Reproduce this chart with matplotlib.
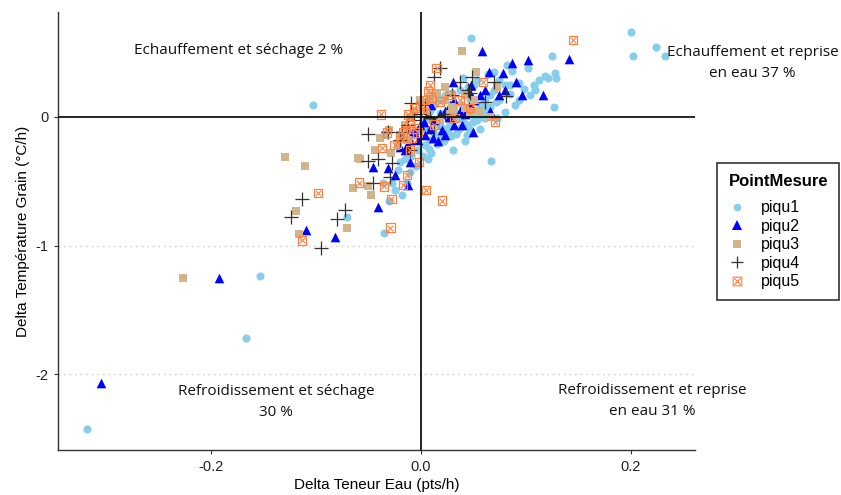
import matplotlib.pyplot as plt
from matplotlib.lines import Line2D

# piqu1 (light blue circles)
p1_x = [-0.318, -0.167, -0.153, -0.103, -0.070, -0.035, 0.200, 0.224, 0.202, 0.233,
        0.125, 0.128, 0.121, 0.129, 0.127, 0.048, 0.082, 0.087, 0.102, 0.075,
        0.080, 0.085, 0.094, 0.075, 0.066, 0.059, 0.040, 0.054, 0.042, 0.031,
        0.067, 0.007, 0.010, -0.027, -0.013, -0.036, -0.010, -0.020,
        0.018, 0.023, 0.028, 0.032, 0.037, 0.047, 0.051, 0.056, 0.061, 0.066,
        0.070, 0.061, 0.054, 0.045, 0.035, 0.026, 0.016, 0.009, 0.004, -0.003,
        -0.009, -0.015, -0.022, -0.025, -0.018, -0.030, -0.006, -0.001, 0.004, 0.009,
        0.013, 0.018, 0.023, 0.030, 0.037, 0.045, 0.051, 0.064, 0.070, 0.113,
        0.109, 0.104, 0.094, 0.090, 0.080, 0.073, 0.028, 0.032, 0.039, 0.047,
        0.018, 0.010, 0.004, 0.047, 0.056,
        0.012, 0.020, 0.027, 0.034, 0.041, 0.050, 0.058, 0.063, 0.008, 0.015,
        0.022, 0.029, 0.038, 0.044, 0.002, -0.005, -0.012, 0.052, 0.060, 0.072,
        0.085, 0.098, 0.108, 0.118]
p1_y = [-2.43, -1.72, -1.24, 0.09, -0.78, -0.90, 0.66, 0.54, 0.47, 0.47,
        0.47, 0.34, 0.30, 0.30, 0.08, 0.61, 0.40, 0.36, 0.38, 0.29,
        0.25, 0.25, 0.26, 0.13, 0.08, 0.04, 0.30, 0.29, -0.19, -0.26,
        -0.34, -0.33, -0.28, -0.51, -0.51, -0.51, -0.43, -0.35,
        -0.06, -0.09, -0.04, -0.02, -0.01, 0.02, 0.05, 0.09, 0.13, 0.17,
        0.21, -0.01, -0.02, -0.06, -0.10, -0.12, -0.14, -0.18, -0.22, -0.26,
        -0.30, -0.33, -0.41, -0.57, -0.61, -0.65, -0.14, -0.10, -0.02, 0.05,
        0.09, 0.13, 0.17, 0.19, 0.21, 0.23, 0.25, 0.33, 0.35, 0.29,
        0.21, 0.17, 0.13, 0.09, 0.04, -0.01, 0.07, 0.04, 0.09, 0.13,
        0.03, -0.02, -0.09, -0.10, -0.09,
        -0.12, -0.16, -0.08, -0.13, -0.05, -0.04, 0.00, 0.06, -0.25, -0.21,
        -0.19, -0.15, -0.08, -0.14, -0.30, -0.38, -0.27, 0.00, 0.10, 0.12,
        0.18, 0.22, 0.25, 0.32]

# piqu2 (blue triangles)
p2_x = [-0.305, -0.192, -0.109, -0.082, -0.041, -0.031, -0.046, -0.012, -0.020, -0.013,
        -0.010, 0.058, 0.065, 0.078, 0.087, 0.102, 0.096, 0.116, 0.091, 0.031,
        0.048, 0.047, 0.141, 0.050, -0.015, -0.010, -0.006, -0.001, 0.004, 0.009,
        0.013, 0.018, 0.023, 0.028, 0.032, 0.037, 0.042, 0.047, 0.051, 0.056,
        0.061, 0.023, 0.016, -0.025, 0.007, 0.010, -0.003, 0.032, 0.039, 0.066,
        0.075, 0.080, 0.003, -0.007, 0.012, 0.020, 0.027]
p2_y = [-2.07, -1.25, -0.88, -0.93, -0.70, -0.40, -0.39, -0.53, -0.23, -0.22,
        -0.35, 0.51, 0.35, 0.34, 0.42, 0.44, 0.17, 0.17, 0.27, 0.27,
        0.25, 0.19, 0.45, -0.12, -0.26, -0.18, -0.10, -0.06, -0.14, -0.09,
        -0.02, 0.02, 0.05, 0.09, 0.13, 0.05, 0.02, 0.09, 0.13, 0.17,
        0.21, -0.14, -0.19, -0.45, 0.02, 0.09, -0.18, -0.06, -0.06, 0.05,
        0.17, 0.21, -0.04, -0.12, -0.16, -0.10, 0.00]

# piqu3 (tan squares)
p3_x = [-0.227, -0.129, -0.110, -0.119, -0.116, -0.070, -0.065, -0.058, -0.050, -0.047,
        -0.028, -0.039, 0.039, 0.053, 0.073, 0.066, 0.042, 0.030, 0.015, -0.001,
        -0.030, -0.060, -0.015, -0.010, -0.006, 0.004, 0.009, 0.013, 0.023, 0.028,
        0.018, -0.020, -0.034, -0.012, 0.032, 0.047, 0.056, 0.042, 0.023, 0.051,
        -0.022, -0.044]
p3_y = [-1.25, -0.31, -0.38, -0.73, -0.91, -0.86, -0.55, -0.33, -0.54, -0.61,
        -0.28, -0.16, 0.51, 0.35, 0.23, 0.00, 0.07, 0.08, 0.19, 0.13,
        -0.10, -0.32, -0.06, -0.01, 0.04, 0.05, 0.13, 0.17, 0.13, 0.02,
        -0.02, -0.14, -0.14, -0.18, 0.07, 0.04, 0.05, 0.17, 0.23, 0.13,
        -0.22, -0.26]

# piqu4 (plus)
p4_x = [-0.113, -0.124, -0.095, -0.080, -0.072, -0.050, -0.046, -0.050, -0.041, -0.029,
        -0.027, -0.031, -0.018, -0.012, 0.018, 0.013, 0.081, 0.061, 0.047, 0.070,
        -0.009, 0.030, 0.037, 0.049, 0.045, 0.013, -0.001, 0.004, -0.006, 0.009,
        0.023, -0.020, -0.010]
p4_y = [-0.64, -0.78, -1.02, -0.79, -0.72, -0.13, -0.51, -0.34, -0.33, -0.47,
        -0.36, -0.12, -0.12, -0.06, 0.38, 0.31, 0.16, 0.12, 0.19, 0.27,
        0.11, 0.17, 0.27, 0.31, 0.21, -0.09, 0.02, 0.09, -0.02, -0.01,
        0.02, -0.18, -0.26]

# piqu5 (orange boxed cross)
p5_x = [-0.098, -0.113, -0.059, -0.035, -0.028, -0.029, -0.038, -0.013, -0.037, -0.032,
        -0.017, 0.145, 0.071, 0.020, 0.005, 0.015, 0.009, 0.007, 0.059, -0.017,
        -0.002, -0.015, -0.010, -0.006, -0.009, -0.003, -0.020, -0.025, -0.012, -0.006,
        -0.001, 0.004, 0.010, 0.018, 0.028, 0.037, 0.047, 0.032, 0.013, -0.010,
        0.004]
p5_y = [-0.59, -0.96, -0.51, -0.54, -0.64, -0.86, 0.02, -0.45, -0.24, -0.12,
        -0.12, 0.60, -0.04, -0.65, -0.57, 0.38, 0.25, 0.20, 0.27, -0.53,
        -0.35, -0.10, -0.06, -0.09, -0.16, -0.12, -0.16, -0.22, 0.02, 0.07,
        0.09, 0.04, 0.15, 0.12, 0.17, 0.13, 0.07, -0.01, -0.06, -0.26,
        0.13]

labels = ['piqu1', 'piqu2', 'piqu3', 'piqu4', 'piqu5']
c1, c2, c3, c4, c5 = '#87CEEB', '#0000FF', '#D2B48C', '#333333', '#FF8040'

fig = plt.figure(figsize=(8.41, 4.95), dpi=100)
ax = fig.add_axes([0.069, 0.091, 0.757, 0.885])

ax.axhline(-1, color='#C8C8C8', lw=1, ls=(0, (1, 3)), zorder=0)
ax.axhline(-2, color='#C8C8C8', lw=1, ls=(0, (1, 3)), zorder=0)

ax.scatter(p1_x, p1_y, s=34, marker='o', color=c1, linewidths=0, zorder=2)
ax.scatter(p2_x, p2_y, s=48, marker='^', color=c2, linewidths=0, zorder=2)
ax.scatter(p3_x, p3_y, s=38, marker='s', color=c3, linewidths=0, zorder=2)
ax.scatter(p4_x, p4_y, s=100, marker='+', color=c4, linewidths=0.9, zorder=2)
ax.scatter(p5_x, p5_y, s=36, marker='s', facecolors='none', edgecolors=c5, linewidths=0.9, zorder=2)
ax.scatter(p5_x, p5_y, s=15, marker='x', color=c5, linewidths=0.8, zorder=2)

ax.axhline(0, color='black', lw=1.2, zorder=3)
ax.axvline(0, color='black', lw=1.2, zorder=3)

ax.set_xlim(-0.3457, 0.261)
ax.set_ylim(-2.59, 0.817)
ax.set_xticks([-0.2, 0.0, 0.2])
ax.set_xticklabels(['-0.2', '0.0', '0.2'])
ax.set_yticks([0, -1, -2])
ax.set_yticklabels(['0', '-1', '-2'])

for s in ['top', 'right']:
    ax.spines[s].set_visible(False)
for s in ['left', 'bottom']:
    ax.spines[s].set_color('#333333')
    ax.spines[s].set_linewidth(1)
ax.tick_params(length=3, width=0.8, color='#333333', labelsize=10.5,
               labelcolor='#222222', pad=4)
for t in ax.get_xticklabels() + ax.get_yticklabels():
    t.set_family('Liberation Sans')

ax.set_xlabel('Delta Teneur Eau (pts/h)', family='Liberation Sans', fontsize=11, labelpad=3)
ax.set_ylabel('Delta Température Grain (°C/h)', family='Liberation Sans', fontsize=11, labelpad=4)

afont = dict(family='Open Sans', fontsize=11, color='#111111', ha='center', va='center',
             linespacing=1.55, clip_on=False, zorder=4)
ax.text(-0.174, 0.52, 'Echauffement et séchage 2 %', **afont)
ax.text(0.316, 0.42, 'Echauffement et reprise\nen eau 37 %', **afont)
ax.text(-0.138, -2.22, 'Refroidissement et séchage\n30 %', **afont)
ax.text(0.221, -2.21, 'Refroidissement et reprise\nen eau 31 %', **afont)

handles = [
    Line2D([], [], ls='', marker='o', color=c1, markersize=5.5, markeredgewidth=0),
    Line2D([], [], ls='', marker='^', color=c2, markersize=6.5, markeredgewidth=0),
    Line2D([], [], ls='', marker='s', color=c3, markersize=5.5, markeredgewidth=0),
    Line2D([], [], ls='', marker='+', color=c4, markersize=9, markeredgewidth=0.9),
    Line2D([], [], ls='', marker='$\\boxtimes$', color=c5, markersize=7, markeredgewidth=0),
]
leg = fig.legend(handles, labels, title='PointMesure', loc='upper left',
                 bbox_to_anchor=(0.853, 0.671), frameon=True, fancybox=False,
                 prop={'family': 'Liberation Sans', 'size': 11.5},
                 handlelength=1.0, handletextpad=1.0, labelspacing=0.22,
                 borderpad=0.7, borderaxespad=0)
leg.get_title().set_fontweight('bold')
leg.get_title().set_family('Liberation Sans')
leg.get_title().set_fontsize(12)
leg._legend_box.align = 'left'
leg._legend_box.sep = 8
leg.get_frame().set_edgecolor('black')
leg.get_frame().set_linewidth(1.2)

fig.savefig('out.png', dpi=100)
